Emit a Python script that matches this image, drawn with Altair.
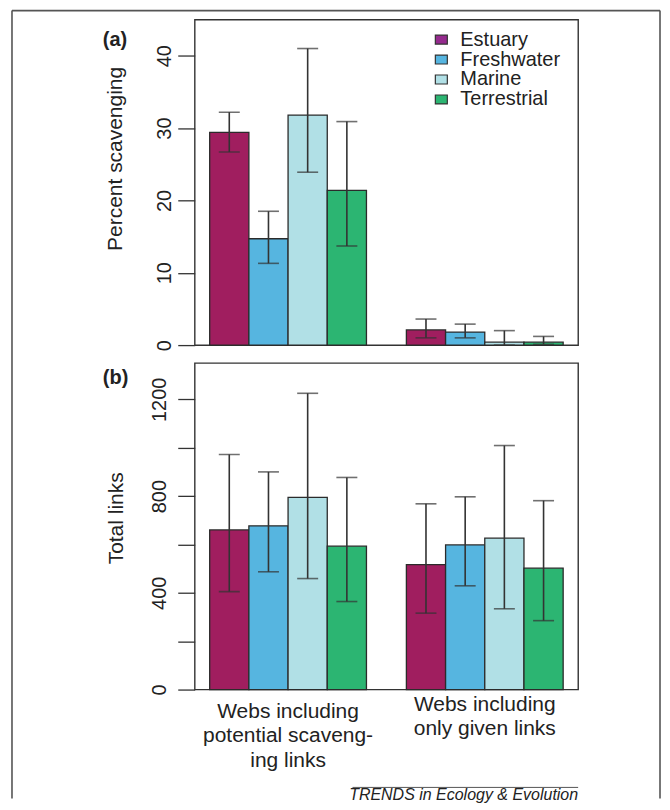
import altair as alt
import pandas as pd

FONT = "Liberation Sans"
TXT = "#222222"

series = ["Estuary", "Freshwater", "Marine", "Terrestrial"]
bar_colors = ["#A01E5F", "#56B5E0", "#B1E0E6", "#2CB572"]
legend_colors = ["#952A8E", "#56B5E0", "#B1E0E6", "#2CB572"]
groups = ["Webs including\npotential scaveng-\ning links",
          "Webs including\nonly given links"]

# Panel (a): percent scavenging
pct_mean_g1 = [29.4, 14.7, 31.8, 21.4]
pct_lo_g1 = [26.7, 11.3, 23.9, 13.7]
pct_hi_g1 = [32.2, 18.5, 41.0, 30.9]
pct_mean_g2 = [2.1, 1.8, 0.4, 0.4]
pct_lo_g2 = [1.0, 1.0, 0.0, 0.1]
pct_hi_g2 = [3.6, 2.9, 2.0, 1.2]
pct_ticks = [0, 10, 20, 30, 40]

# Panel (b): total links
links_mean_g1 = [660, 677, 795, 593]
links_lo_g1 = [405, 487, 459, 364]
links_hi_g1 = [972, 900, 1225, 877]
links_mean_g2 = [517, 598, 626, 502]
links_lo_g2 = [316, 429, 334, 285]
links_hi_g2 = [768, 797, 1009, 781]
links_ticks = [0, 200, 400, 600, 800, 1000, 1200]

credit = "TRENDS in Ecology & Evolution"


def make_df(m1, l1, h1, m2, l2, h2):
    rows = []
    for g, (m, l, h) in zip(groups, [(m1, l1, h1), (m2, l2, h2)]):
        for s, mv, lv, hv in zip(series, m, l, h):
            rows.append({"group": g, "series": s, "mean": mv, "lo": lv, "hi": hv})
    return pd.DataFrame(rows)


df_a = make_df(pct_mean_g1, pct_lo_g1, pct_hi_g1, pct_mean_g2, pct_lo_g2, pct_hi_g2)
df_b = make_df(links_mean_g1, links_lo_g1, links_hi_g1, links_mean_g2, links_lo_g2, links_hi_g2)
one = pd.DataFrame({"k": [0]})

xscale = alt.Scale(domain=groups, paddingInner=0.203, paddingOuter=0.0761)
xoscale = alt.Scale(domain=series, paddingInner=0, paddingOuter=0)


def tag_text(label, dy):
    return alt.Chart(one).mark_text(
        text=label, align="left", baseline="alphabetic", fontSize=20,
        fontWeight="bold", color=TXT, font=FONT
    ).encode(x=alt.value(-92), y=alt.value(dy))


def panel(df, ydomain, yticks, ytitle, label_expr, lab_pad, title_x, title_y,
          height, xaxis, extra):
    yaxis = alt.Axis(values=yticks, labelExpr=label_expr, format="d", domain=False,
                     grid=False, tickSize=17, tickWidth=1.3, tickColor="#333333",
                     labelAngle=270, labelAlign="center", labelBaseline="alphabetic",
                     labelPadding=lab_pad, labelFontSize=20, labelColor=TXT,
                     labelOverlap=False,
                     titleAngle=270, titleAlign="center", titleBaseline="alphabetic",
                     titleX=title_x, titleY=title_y, titleFontSize=21,
                     titleFontWeight="normal", titleColor=TXT)
    ysc = alt.Scale(domain=ydomain, nice=False, zero=True)

    def Y(f):
        return alt.Y(f, type="quantitative", scale=ysc, axis=yaxis, title=ytitle)

    X = alt.X("group:N", scale=xscale, axis=xaxis, title=None)
    XO = alt.XOffset("series:N", scale=xoscale)

    base = alt.Chart(df)
    bars = base.mark_bar(stroke="#2b2b2b", strokeWidth=1.3).encode(
        x=X, xOffset=XO, y=Y("mean"),
        color=alt.Color("series:N", scale=alt.Scale(domain=series, range=bar_colors),
                        legend=None))
    rules = base.mark_rule(color="#333333", strokeWidth=1.6).encode(
        x=X, xOffset=XO, y=Y("lo"), y2="hi:Q")
    cap_lo = base.mark_tick(orient="horizontal", size=21, thickness=1.6,
                            color="#333333").encode(x=X, xOffset=XO, y=Y("lo"))
    cap_hi = base.mark_tick(orient="horizontal", size=21, thickness=1.6,
                            color="#333333").encode(x=X, xOffset=XO, y=Y("hi"))
    layers = [bars, rules, cap_lo, cap_hi] + extra
    return alt.layer(*layers).properties(width=384, height=height)


legend_layer = alt.Chart(df_a).mark_square().encode(
    color=alt.Color("series:N",
                    scale=alt.Scale(domain=series, range=legend_colors),
                    legend=alt.Legend(orient="none", legendX=237, legendY=10, title=None,
                                      labelFontSize=20, labelColor=TXT, labelFont=FONT,
                                      symbolType="M-1,-0.75H1V0.75H-1Z", symbolSize=144,
                                      symbolStrokeColor="#333333", symbolStrokeWidth=1.2,
                                      symbolOpacity=1, labelOffset=9, rowPadding=0,
                                      padding=0))
).transform_filter("false")

# decorative figure frame (left, top and right edges), kept inside the page
frame_style = dict(color="#555555", strokeWidth=1.6)
frame_left = alt.Chart(one).mark_rule(**frame_style).encode(
    x=alt.value(-183), y=alt.value(-9), y2=alt.value(780))
frame_right = alt.Chart(one).mark_rule(**frame_style).encode(
    x=alt.value(466), y=alt.value(-9), y2=alt.value(780))
frame_top = alt.Chart(one).mark_rule(**frame_style).encode(
    x=alt.value(-183), x2=alt.value(466), y=alt.value(-9))

xaxis_b = alt.Axis(labelExpr="split(datum.label, '\\n')", ticks=False, domain=False,
                   labelAngle=0, labelFontSize=21, labelLineHeight=24.5,
                   labelBaseline="top", labelAlign="center", labelColor=TXT,
                   labelPadding={"condition": {"test": "indexof(datum.value, 'only') >= 0",
                                               "value": 4}, "value": 11},
                   labelLimit=400)

credit_line = alt.Chart(one).mark_rule(color="#555555", strokeWidth=1).encode(
    x=alt.value(158), x2=alt.value(384), y=alt.value(425))
credit_text = alt.Chart(one).mark_text(
    text=credit, align="right", baseline="alphabetic", fontSize=16,
    fontStyle="italic", color=TXT, font=FONT
).encode(x=alt.value(384), y=alt.value(438))

panel_a = panel(df_a, [0, 45], pct_ticks, "Percent scavenging", "datum.label", 7,
                -73, 139, 326, None,
                extra=[legend_layer, tag_text("(a)", 26), frame_left, frame_right, frame_top]
                ).resolve_scale(color="independent")
panel_b = panel(df_b, [0, 1350], links_ticks, "Total links",
                "datum.value % 400 == 0 ? datum.label : ''", 12,
                -72, 155, 327, xaxis_b,
                extra=[tag_text("(b)", 21), credit_line, credit_text])

chart = alt.vconcat(panel_a, panel_b, spacing=18, bounds="flush").properties(
    padding={"left": 2, "top": 0, "right": 0, "bottom": 0}
).configure_view(stroke="#333333", strokeWidth=1.4).configure_axis(
    labelFont=FONT, titleFont=FONT
).configure_legend(labelFont=FONT)

chart.save("out.html", embed_options={"renderer": "svg", "actions": False})
